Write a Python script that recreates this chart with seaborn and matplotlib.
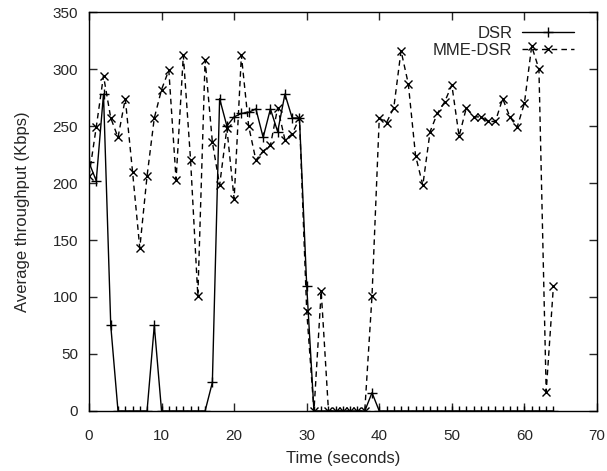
import numpy as np
import pandas as pd
import matplotlib
matplotlib.use("Agg")
import matplotlib.pyplot as plt
import seaborn as sns

sns.set_style("ticks")
plt.rcParams['font.family'] = ['Liberation Sans', 'DejaVu Sans']

# time in seconds
time = list(range(0, 65))

# DSR throughput (Kbps)
dsr = [218, 202, 278, 75, 0, 0, 0, 0, 0, 75,
       0, 0, 0, 0, 0, 0, 0, 25, 274, 250,
       258, 261, 262, 265, 240, 265, 245, 278, 257, 257,
       110, 0, 0, 0, 0, 0, 0, 0, 0, 16,
       0, 0, 0, 0, 0, 0, 0, 0, 0, 0,
       0, 0, 0, 0, 0, 0, 0, 0, 0, 0,
       0, 0, 0, 0, 0]

# MME-DSR throughput (Kbps)
mme = [206, 249, 294, 257, 240, 274, 210, 143, 206, 257,
       282, 299, 203, 312, 220, 101, 308, 236, 198, 248,
       186, 312, 250, 220, 228, 233, 266, 238, 243, 257,
       88, 0, 105, 0, 0, 0, 0, 0, 0, 101,
       257, 253, 266, 316, 287, 224, 198, 245, 261, 271,
       286, 241, 266, 258, 258, 254, 254, 274, 258, 249,
       270, 320, 300, 17, 110]

df = pd.DataFrame({'time': time, 'DSR': dsr, 'MME-DSR': mme})

fig = plt.figure(figsize=(6.07, 4.71), dpi=100)
ax = fig.add_axes([0.1466, 0.1274, 0.8369, 0.8471])

sns.lineplot(data=df, x='time', y='DSR', ax=ax, color='black', lw=1,
             marker='+', markersize=7, markeredgewidth=1,
             markeredgecolor='black', label='DSR')
sns.lineplot(data=df, x='time', y='MME-DSR', ax=ax, color='black', lw=1,
             linestyle=(0, (4, 3)), marker='x', markersize=6,
             markeredgewidth=1, markeredgecolor='black', label='MME-DSR')

ax.set_xlim(0, 70)
ax.set_ylim(0, 350)
ax.set_xticks(range(0, 71, 10))
ax.set_yticks(range(0, 351, 50))
ax.set_xlabel('Time (seconds)', fontsize=12, labelpad=6)
ax.set_ylabel('Average throughput (Kbps)', fontsize=12, labelpad=16)
ax.tick_params(direction='in', length=6, width=1, labelsize=11,
               top=True, right=True)
ax.tick_params(axis='x', pad=13)
ax.tick_params(axis='y', pad=8)
for s in ax.spines.values():
    s.set_linewidth(1)
    s.set_color('black')

ax.legend(loc='upper right', bbox_to_anchor=(0.955, 0.965), frameon=False,
          markerfirst=False, fontsize=12, handlelength=3.1,
          handletextpad=0.6, labelspacing=0.1, borderpad=0,
          borderaxespad=0, numpoints=1)

fig.savefig('out.png', dpi=100)
